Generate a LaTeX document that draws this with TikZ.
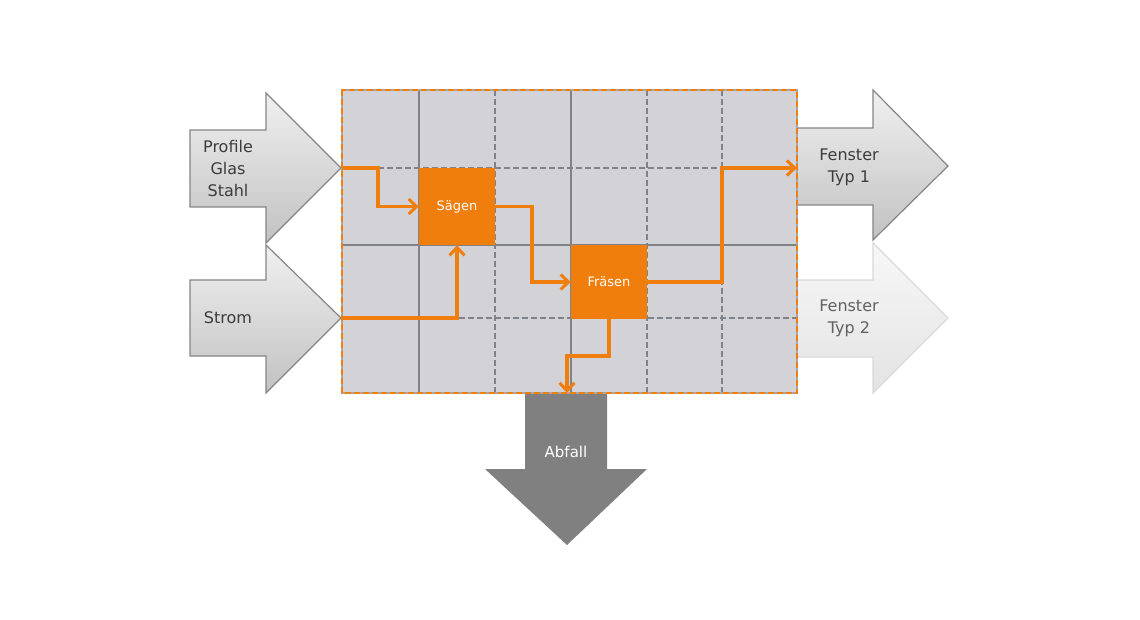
\documentclass[tikz,border=0pt]{standalone}
\usepackage{fontspec}
\setmainfont{DejaVu Sans}
\usetikzlibrary{arrows.meta}
\definecolor{org}{HTML}{F07E0C}
\definecolor{cellgray}{HTML}{D3D3D7}
\definecolor{gridgray}{HTML}{80828A}
\definecolor{txtgray}{HTML}{3C3C3C}
\tikzset{
  inarrow/.style={draw=black!48, line width=1.2pt, top color=black!6, bottom color=black!24},
  lightarrow/.style={draw=black!15, line width=1.2pt, top color=black!3, bottom color=black!11},
  gridline/.style={draw=gridgray, line width=1.5pt},
  gdash/.style={gridline, dash pattern=on 6pt off 3pt},
  proc/.style={fill=org, draw=none, inner sep=0pt, text=white, font=\fontsize{13}{15}\selectfont},
  flow/.style={draw=org, line width=3.5pt, -{Straight Barb[length=8pt,width=15pt,line width=3pt]}},
  lbl/.style={text=txtgray, align=center, font=\fontsize{16}{22}\selectfont, inner sep=0pt},
}
\begin{document}
\begin{tikzpicture}[x=1pt,y=-1pt]
\useasboundingbox (0,0) rectangle (1140,620);
\fill[white] (0,0) rectangle (1140,620);

% output arrows
\path[inarrow] (797,128) -- (873,128) -- (873,90) -- (948,166) -- (873,240) -- (873,205) -- (797,205) -- cycle;
\path[lightarrow] (797,280) -- (873,280) -- (873,243) -- (948,318) -- (873,393) -- (873,357) -- (797,357) -- cycle;

% input arrows
\path[inarrow] (190,130) -- (266,130) -- (266,93) -- (341,168) -- (266,243) -- (266,207) -- (190,207) -- cycle;
\path[inarrow] (190,280) -- (266,280) -- (266,245) -- (341,318) -- (266,393) -- (266,356) -- (190,356) -- cycle;

% waste arrow
\fill[black!50] (525,393) -- (607,393) -- (607,469) -- (647,469) -- (567,545) -- (485,469) -- (525,469) -- cycle;

% grid
\fill[cellgray] (342,90) rectangle (797,393);
\draw[gridline] (419,90) -- (419,393);
\draw[gdash] (495,90) -- (495,393);
\draw[gridline] (571,90) -- (571,393);
\draw[gdash] (647,90) -- (647,393);
\draw[gdash] (722,90) -- (722,393);
\draw[gdash] (342,168) -- (797,168);
\draw[gridline] (342,245) -- (797,245);
\draw[gdash, line width=2pt] (342,318) -- (797,318);
\draw[draw=gridgray!70, line width=1.3pt] (342,90) rectangle (797,393);
\draw[draw=org, line width=1.6pt, dash pattern=on 6pt off 3pt] (342,90) rectangle (797,393);

% process nodes
\node[proc, minimum width=76pt, minimum height=77pt] (saegen) at (457,206.5) {Sägen};
\node[proc, minimum width=76pt, minimum height=74pt] (fraesen) at (609,282) {Fräsen};

% connector end points
\coordinate (inP) at (342,168);
\coordinate (inS) at (342,318);
\coordinate (outF) at (797,168);
\coordinate (waste) at (567,393);

% flows
\draw[flow] (inP) -- ++(36,0) |- (saegen.west);
\draw[flow] (inS) -| (saegen.south);
\draw[flow] (saegen.east) -- ++(37,0) |- (fraesen.west);
\draw[flow] (fraesen.east) -- ++(75,0) |- (outF);
\draw[flow] (fraesen.south) -- ++(0,37) -| (waste);

% labels
\node[lbl] (tP) at (228,169) {Profile\\Glas\\Stahl};
\node[lbl] (tS) at (228,318) {Strom};
\node[lbl] (tF1) at (849,167) {Fenster\\Typ 1};
\node[lbl, text=black!62] (tF2) at (849,318) {Fenster\\Typ 2};
\node[lbl, text=white, font=\fontsize{15}{18}\selectfont] (tA) at (566,452) {Abfall};
\end{tikzpicture}
\end{document}
